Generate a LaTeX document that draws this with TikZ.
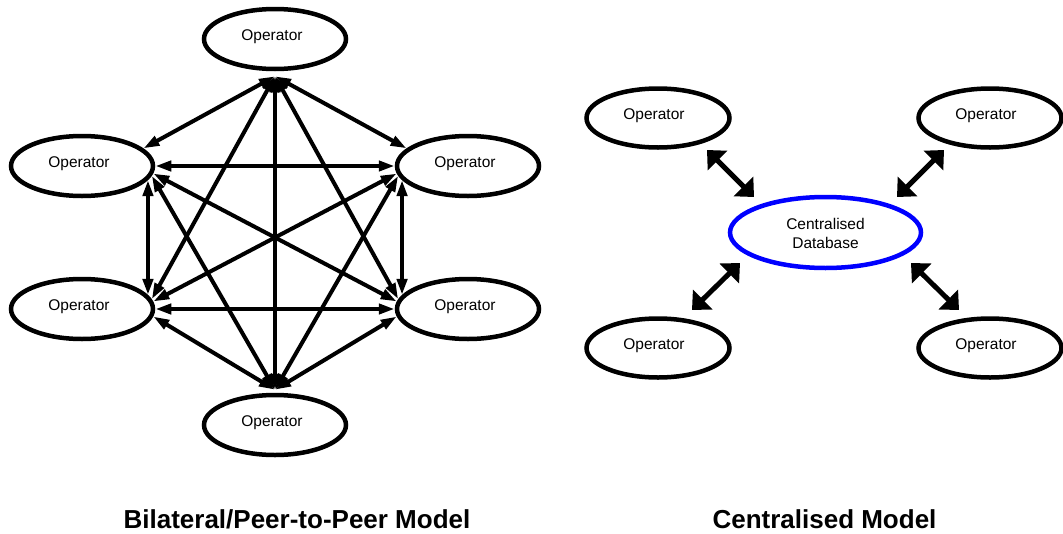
\documentclass[tikz,border=0pt]{standalone}
\usepackage{fontspec}
\setmainfont{Liberation Sans}
\usetikzlibrary{arrows.meta,shapes.geometric,calc}
\begin{document}
\begin{tikzpicture}[x=1pt,y=-1pt,
  opnode/.style={ellipse, draw=black, line width=4.5pt, minimum width=142pt,
    minimum height=60pt, inner sep=0pt},
  dbnode/.style={ellipse, draw=blue, line width=4.5pt, minimum width=191pt,
    minimum height=71pt, inner sep=0pt},
  oplabel/.style={font=\fontsize{15.5}{18.3}\selectfont, inner sep=0pt},
  peer/.style={line width=4pt,
    {Triangle[length=16pt,width=10pt]}-{Triangle[length=16pt,width=10pt]}},
  hub/.style={line width=5pt,
    {Triangle[length=15pt,width=27pt]}-{Triangle[length=15pt,width=27pt]}},
  caption/.style={font=\fontsize{26}{30}\selectfont\bfseries, inner sep=0pt,
    anchor=base}
]
\useasboundingbox (0,0) rectangle (1063,533);

% ---------- peer-to-peer mesh ----------
\node[opnode] (T)  at (275,39)  {};
\node[opnode] (UL) at (82,166)  {};
\node[opnode] (UR) at (468,166) {};
\node[opnode] (LL) at (82,309)  {};
\node[opnode] (LR) at (468,309) {};
\node[opnode] (B)  at (275,425) {};

\foreach \n in {T,UL,UR,LL,LR,B}
  \node[oplabel] (\n txt) at ($(\n)+(-3,-2)$) {Operator};

% meeting points just outside the top and bottom operators
\coordinate (Tp) at ($(T.south)+(0,5)$);
\coordinate (Bp) at ($(B.north)+(0,-3)$);

% every operator linked to every other one
\draw[peer] (Tp) -- (Bp);
\draw[peer] (Tp) -- (UL.16);
\draw[peer] (Tp) -- (UR.164);
\draw[peer] (Tp) -- (LL.8);
\draw[peer] (Tp) -- (LR.172);
\draw[peer] (UL.east) -- (UR.west);
\draw[peer] (UL.-12)  -- (LL.12);
\draw[peer] (UL.-6)   -- (LR.174);
\draw[peer] (UL.-8)   -- (Bp);
\draw[peer] (UR.186)  -- (LL.6);
\draw[peer] (UR.192)  -- (LR.168);
\draw[peer] (UR.188)  -- (Bp);
\draw[peer] (LL.east) -- (LR.west);
\draw[peer] (LL.-6)   -- (Bp);
\draw[peer] (LR.186)  -- (Bp);

% ---------- hub model ----------
\node[dbnode] (DB) at (825.5,232.5) {};
\node[oplabel, align=center] (DBtxt) at ($(DB)+(0,1)$) {Centralised\\Database};

\node[opnode, minimum width=143pt, minimum height=59pt] (OA) at (658,118) {};
\node[opnode, minimum width=143pt, minimum height=59pt] (OB) at (990,118) {};
\node[opnode, minimum width=143pt, minimum height=59pt] (OC) at (658,348) {};
\node[opnode, minimum width=143pt, minimum height=59pt] (OD) at (990,348) {};
\foreach \n in {OA,OB,OC,OD}
  \node[oplabel] (\n txt) at ($(\n)+(-4,-2)$) {Operator};

\coordinate (a1) at ($(OA)+(49,32)$);
\coordinate (a2) at ($(DB)+(-71.5,-35.5)$);
\coordinate (b1) at ($(OB)+(-46,32)$);
\coordinate (b2) at ($(DB)+(71.5,-35.5)$);
\coordinate (c1) at ($(DB)+(-85.5,30.5)$);
\coordinate (c2) at ($(OC)+(34,-38)$);
\coordinate (d1) at ($(DB)+(85.5,30.5)$);
\coordinate (d2) at ($(OD)+(-31,-38)$);

\draw[hub] (a1) -- (a2);
\draw[hub] (b1) -- (b2);
\draw[hub] (c1) -- (c2);
\draw[hub] (d1) -- (d2);

% ---------- captions ----------
\node[caption] (cap1) at (297,528)   {Bilateral/Peer-to-Peer Model};
\node[caption] (cap2) at (824.5,528) {Centralised Model};
\end{tikzpicture}
\end{document}
